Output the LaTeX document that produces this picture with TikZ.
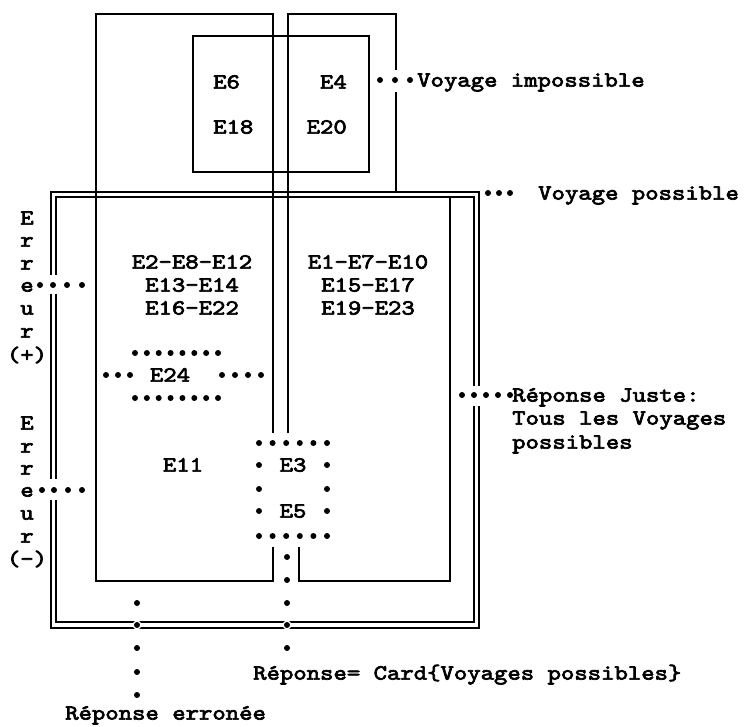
\documentclass[tikz,border=0pt]{standalone}
\usepackage{fontspec}
\newfontfamily\tw{lmmono10-regular.otf}[FakeBold=3.2,FakeStretch=1.18]
\tikzset{
  txt/.style={font=\tw\fontsize{21.6}{22}\selectfont, inner sep=0pt, text height=13.2pt, text depth=0pt},
  frame/.style={line width=1.8pt},
  dbl/.style={line width=1.4pt},
  gap/.style={fill=white}
}
\newcommand{\dotat}[2]{\fill[white] (#1,#2) circle (4.5pt); \fill[black] (#1,#2) circle (3.0pt);}
\begin{document}
\begin{tikzpicture}[x=1pt,y=-1pt]
\useasboundingbox (0,0) rectangle (744,726);
% outer sets
\draw[frame] (273,433) -- (273,14) -- (96,14) -- (96,581) -- (273,581) -- (273,547);
\draw[frame] (288,433) -- (288,14) -- (396,14) -- (396,192);
\draw[frame] (450,197) -- (450,581) -- (299,581) -- (299,547);
\draw[line width=1.5pt] (193,36) rectangle (369,172);
\draw[dbl] (51,192) rectangle (479,628);
\draw[dbl] (56,197) rectangle (474,622);
% line breaks where dotted leaders cross
\fill[gap] (46,275) rectangle (61,294);
\fill[gap] (46,479) rectangle (61,500);
\fill[gap] (469,386) rectangle (484,406);
\fill[gap] (391,70) rectangle (400,92);
% texts in regions
\node[txt,anchor=west] (e6) at (213,82) {E6};
\node[txt,anchor=west] (e18) at (213,127) {E18};
\node[txt,anchor=east] (e4) at (347,82) {E4};
\node[txt,anchor=east] (e20) at (347,127) {E20};
\node[txt] (g1) at (192,262) {E2-E8-E12};
\node[txt] (g2) at (192,285) {E13-E14};
\node[txt] (g3) at (192,308) {E16-E22};
\node[txt] (h1) at (368,262) {E1-E7-E10};
\node[txt] (h2) at (368,285) {E15-E17};
\node[txt] (h3) at (368,308) {E19-E23};
\node[txt] (e24) at (170,375) {E24};
\node[txt] (e11) at (183,465) {E11};
\node[txt] (e3) at (293,465) {E3};
\node[txt] (e5) at (293,511) {E5};
% left vertical labels
\foreach \l/\y [count=\i] in {E/218,r/240,r/263,e/285,u/308,r/331,(+)/355}
  {\node[txt] (ea\i) at (27,\y) {\l};}
\foreach \l/\y [count=\i] in {E/423,r/446,r/468,e/490,u/513,r/536,(-)/559}
  {\node[txt] (eb\i) at (27,\y) {\l};}
% right labels
\node[txt,anchor=west] (vi) at (417,80) {Voyage impossible};
\node[txt,anchor=west] (vp) at (538,193) {Voyage possible};
\node[txt,anchor=west] (rj1) at (512,395) {Réponse Juste:};
\node[txt,anchor=west] (rj2) at (512,418) {Tous les Voyages};
\node[txt,anchor=west] (rj3) at (512,442) {possibles};
\node[txt,anchor=west] (rc) at (253,673) {Réponse= Card\{Voyages possibles\}};
\node[txt,anchor=west] (re) at (65,713) {Réponse erronée};
% dots
\foreach \x in {380,395,410} {\dotat{\x}{80}}
\foreach \x in {488,499,510} {\dotat{\x}{193}}
\foreach \x in {462,474,486,498,510} {\dotat{\x}{395}}
\foreach \x in {40,53,67,82} {\dotat{\x}{285}}
\foreach \x in {42,54,68,82} {\dotat{\x}{490}}
\foreach \k in {0,...,7} {\dotat{135+11.86*\k}{353}\dotat{135+11.86*\k}{398}}
\foreach \x in {106,118,130,222,235,248,261} {\dotat{\x}{375}}
\foreach \k in {0,...,5} {\dotat{259+13.6*\k}{443}\dotat{259+13.6*\k}{536}}
\foreach \y in {465,489,511} {\dotat{259}{\y}\dotat{327}{\y}}
\foreach \y in {557,580,603,625,648} {\dotat{287}{\y}}
\foreach \y in {603,625,648,672,695} {\dotat{137}{\y}}
\end{tikzpicture}
\end{document}
